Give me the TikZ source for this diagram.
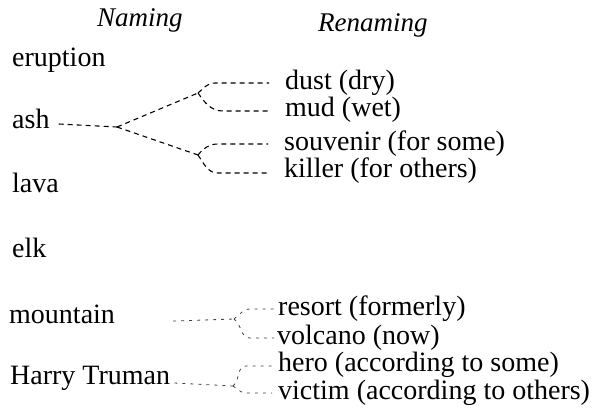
\documentclass[tikz,border=0pt]{standalone}
\usepackage{fontspec}
\setmainfont{Liberation Serif}
\begin{document}
\begin{tikzpicture}[x=1pt,y=-1pt,
  lbl/.style={anchor=base west, inner sep=0pt, font=\fontsize{28}{30}\selectfont},
  head/.style={lbl, font=\fontsize{27}{30}\selectfont\itshape},
  conn/.style={line width=1.1pt, dash pattern=on 5pt off 4pt},
  faint/.style={line width=0.8pt, dash pattern=on 3pt off 5pt, black!75}]
\useasboundingbox (0,0) rectangle (609,417);

% column headings
\node[head] (naming) at (97,27) {Naming};
\node[head] (renaming) at (318,32) {Renaming};

% first names
\node[lbl] (eruption) at (12,67) {eruption};
\node[lbl] (ash) at (12,128) {ash};
\node[lbl] (lava) at (12,192) {lava};
\node[lbl] (elk) at (12,257) {elk};
\node[lbl] (mountain) at (9,323) {mountain};
\node[lbl] (harry) at (10,384) {Harry\hspace{7pt}Truman};

% new names
\node[lbl] (dust) at (285,89) {dust (dry)};
\node[lbl] (mud) at (285,116) {mud (wet)};
\node[lbl] (souvenir) at (284,150) {souvenir (for some)};
\node[lbl] (killer) at (284,177) {killer (for others)};
\node[lbl] (resort) at (278,315) {resort (formerly)};
\node[lbl] (volcano) at (277,344) {volcano (now)};
\node[lbl] (hero) at (278,371) {hero (according to some)};
\node[lbl] (victim) at (278,399) {victim (according to others)};

% branch points
\coordinate (v0) at (117,127);
\coordinate (v1) at (198,93);
\coordinate (v2) at (198,155);
\coordinate (vm) at (234,319);
\coordinate (vh) at (233,386);

% line ends in front of the new names
\coordinate (dE) at ([xshift=-16pt,yshift=6pt]dust.base west);
\coordinate (mE) at ([xshift=-16pt,yshift=5pt]mud.base west);
\coordinate (sE) at ([xshift=-16pt,yshift=6pt]souvenir.base west);
\coordinate (kE) at ([xshift=-16pt,yshift=4pt]killer.base west);
\coordinate (rE) at ([xshift=-4pt,yshift=6pt]resort.base west);
\coordinate (oE) at ([xshift=-3pt,yshift=6pt]volcano.base west);
\coordinate (hE) at ([xshift=-6pt,yshift=5pt]hero.base west);
\coordinate (tE) at ([xshift=-6pt,yshift=6pt]victim.base west);

% ash
\draw[conn] ([xshift=9pt,yshift=4pt]ash.base east) -- (v0);
\draw[conn] (v0) -- (v1);
\draw[conn] (v0) -- (v2);
\draw[conn] (v1) to[out=40,in=180] ([xshift=-54pt]dE) -- (dE);
\draw[conn] (v1) to[out=-55,in=180] ([xshift=-46pt]mE) -- (mE);
\draw[conn] (v2) to[out=50,in=180] ([xshift=-50pt]sE) -- (sE);
\draw[conn] (v2) to[out=-55,in=180] ([xshift=-50pt]kE) -- (kE);

% mountain
\draw[faint] ([xshift=58pt,yshift=2pt]mountain.base east) -- (vm);
\draw[faint] (vm) to[out=35,in=180] ([xshift=-24pt]rE) -- (rE);
\draw[faint] (vm) to[out=-35,in=180] ([xshift=-24pt]oE) -- (oE);

% Harry Truman
\draw[faint] ([xshift=4pt,yshift=1pt]harry.base east) -- (vh);
\draw[faint] (vh) to[out=40,in=180] ([xshift=-26pt]hE) -- (hE);
\draw[faint] (vh) to[out=-30,in=180] ([xshift=-26pt]tE) -- (tE);
\end{tikzpicture}
\end{document}
